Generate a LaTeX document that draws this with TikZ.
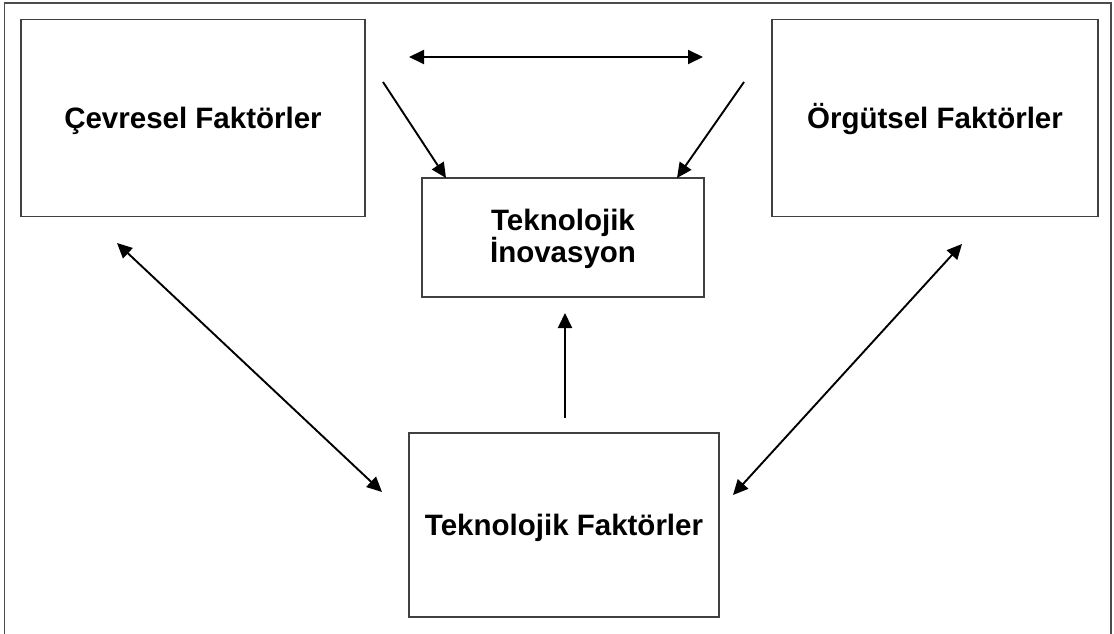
\documentclass[tikz,border=0pt]{standalone}
\usepackage{fontspec}
\setmainfont{Liberation Sans}
\usetikzlibrary{arrows.meta}
\begin{document}
\begin{tikzpicture}[x=1pt,y=-1pt,
  factorbox/.style={draw=black!75, line width=1.1pt, fill=white, rectangle,
    inner sep=0pt, font=\fontsize{29.5}{30}\selectfont\bfseries, align=center},
  oneline/.style={text height=21pt, text depth=0pt},
  link/.style={line width=1.9pt, -{Triangle[length=15pt,width=14pt]}},
  biglink/.style={line width=1.9pt, {Triangle[length=15pt,width=14pt]}-{Triangle[length=15pt,width=14pt]}}]
  \useasboundingbox (0,0) rectangle (1114,634);
  % outer frame, open at the bottom edge
  \draw[draw=black!70, line width=1.5pt] (4.5,640) -- (4.5,3) -- (1111,3) -- (1111,640);

  % factor boxes
  \node[factorbox, oneline, minimum width=344pt, minimum height=197pt] (env) at (193,118) {Çevresel Faktörler};
  \node[factorbox, oneline, minimum width=326pt, minimum height=197pt] (org) at (935,118) {Örgütsel Faktörler};
  \node[factorbox, minimum width=282pt, minimum height=119pt] (inno) at (563,237.5) {\rule{0pt}{24pt}Teknolojik\\İnovasyon};
  \node[factorbox, oneline, minimum width=310pt, minimum height=184pt] (tech) at (564,525) {Teknolojik Faktörler};

  % arrow end points
  \coordinate (topL) at (409,57);
  \coordinate (topR) at (703,57);
  \coordinate (dL) at (383,82);
  \coordinate (dLtip) at (446,178);
  \coordinate (dR) at (744,82);
  \coordinate (dRtip) at (677,178);
  \coordinate (llA) at (117,243);
  \coordinate (llB) at (382,492);
  \coordinate (lrA) at (962,244);
  \coordinate (lrB) at (733,495);
  \coordinate (up) at (565,418);
  \coordinate (uptip) at (565,313);

  % connectors
  \draw[biglink] (topL) -- (topR);
  \draw[link] (dL) -- (dLtip);
  \draw[link] (dR) -- (dRtip);
  \draw[biglink] (llA) -- (llB);
  \draw[biglink] (lrA) -- (lrB);
  \draw[link] (up) -- (uptip);
\end{tikzpicture}
\end{document}
